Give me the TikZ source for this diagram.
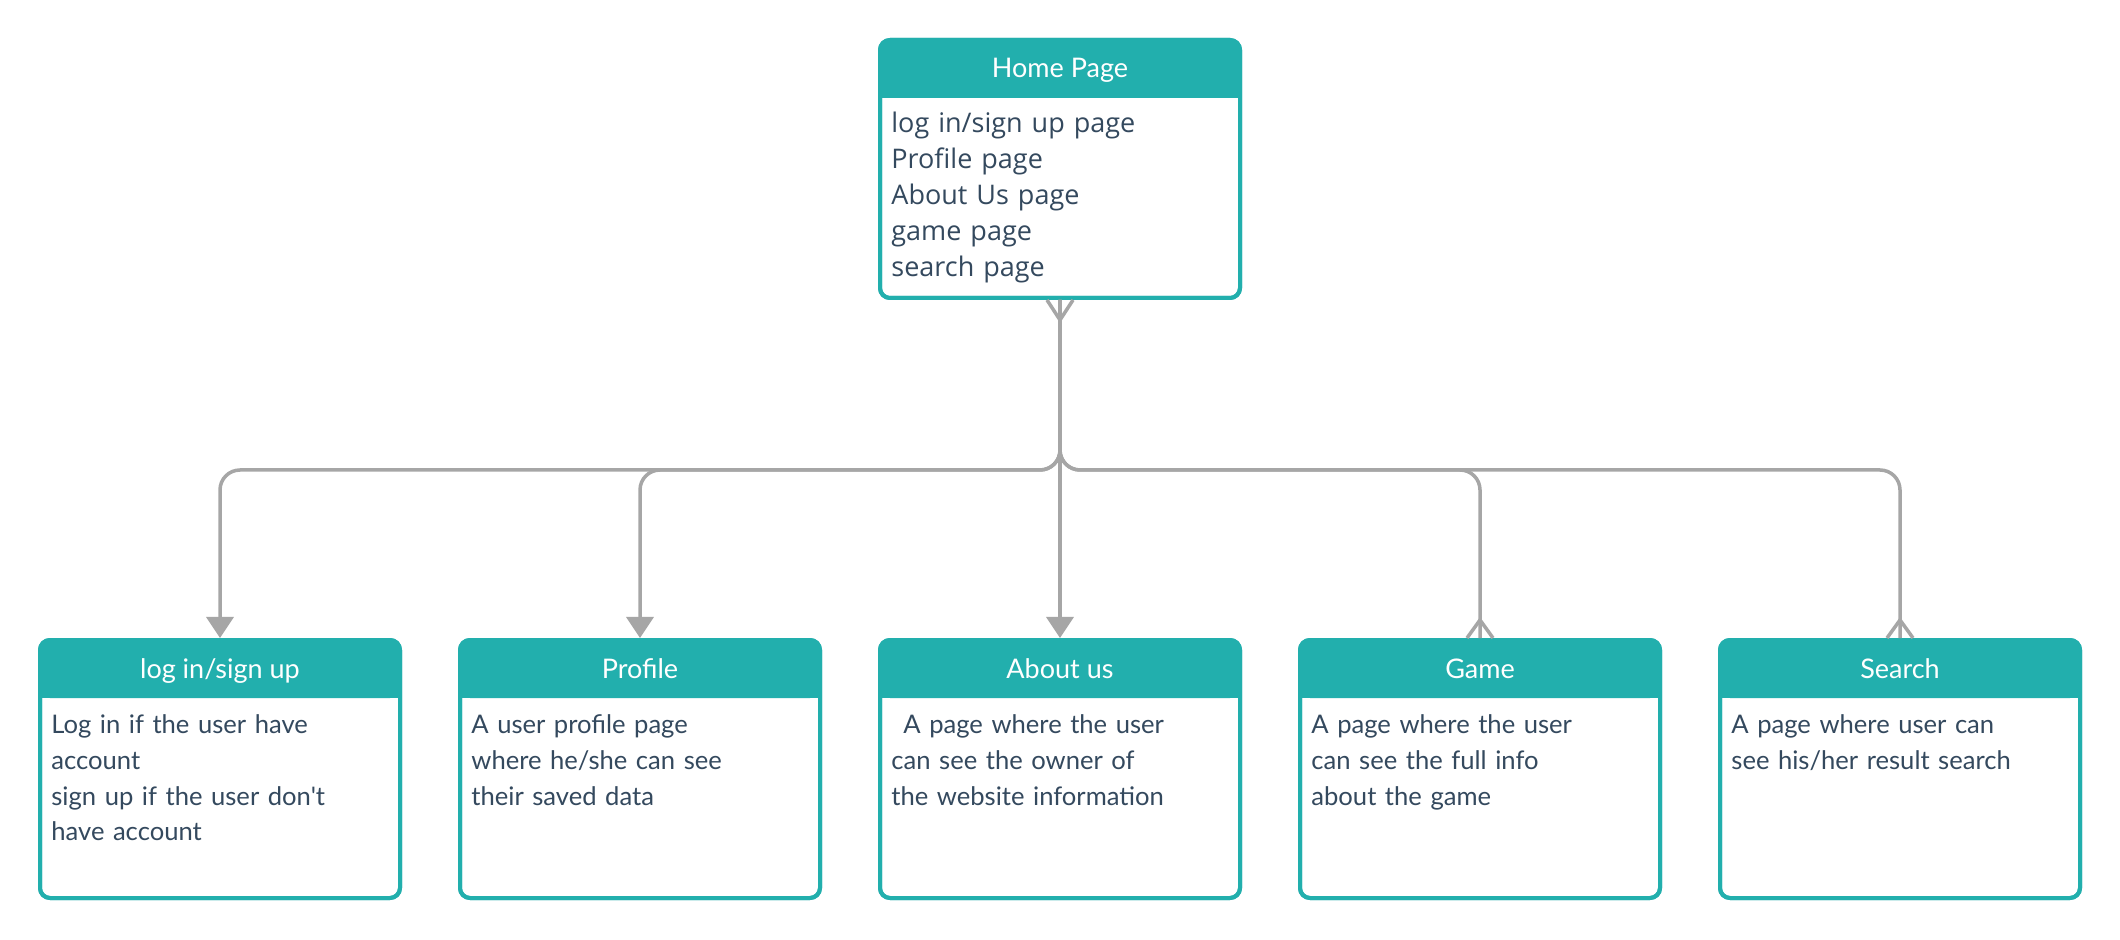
\documentclass[tikz,border=0pt]{standalone}
\usepackage{fontspec}
\setmainfont{Lato}
\newfontfamily\latoplain{Lato}
\newfontfamily\homefont{Open Sans}
\usetikzlibrary{arrows.meta}
\definecolor{tealA}{HTML}{22AFAD}
\definecolor{gryA}{HTML}{A6A6A6}
\definecolor{txtA}{HTML}{34495E}
\newcommand\pagebox[6]{%
  \node[box] (#1) at (#2,#3) {};
  \fill[tealA, rounded corners=5pt] ([shift={(2,2)}]#1.north west) rectangle ([shift={(-2,60)}]#1.north east);
  \fill[tealA] ([shift={(2,30)}]#1.north west) rectangle ([shift={(-2,60)}]#1.north east);
  \draw[tealA, line width=2pt, rounded corners=5pt] ([shift={(2,2)}]#1.north west) rectangle ([shift={(-2,-2)}]#1.south east);
  \node[titletext] (#1-t) at ([shift={(0,40)}]#1.north) {#4};
  \node[bodytext, font=#5] (#1-b) at ([shift={(13,95)}]#1.north west) {#6};
}
\begin{document}
\begin{tikzpicture}[x=0.5pt,y=-0.5pt,
  box/.style={draw=tealA, fill=white, line width=2pt, rounded corners=5pt,
    minimum width=180pt, minimum height=129pt, inner sep=0pt},
  titletext/.style={text=white, font=\fontsize{13.5}{16}\selectfont, inner sep=0pt, anchor=base},
  bodytext/.style={text=txtA, inner sep=0pt, anchor=base west, text width=172pt, align=left},
  conn/.style={draw=gryA, line width=1.75pt, rounded corners=10pt},
  foot/.style={draw=gryA, line width=1.75pt},
  tip/.style={-{Triangle[length=10.5pt,width=13.5pt]}}
]
\fill[white] (0,0) rectangle (2120,940);
\useasboundingbox (0,0) rectangle (2120,940);

\pagebox{home}{1060}{169}{Home Page}{\homefont\fontsize{13.5}{18}\selectfont}{log in/sign up page\\Profile page\\About Us page\\game page\\search page}
\pagebox{login}{220}{769}{log in/sign up}{\latoplain\fontsize{12.8}{18}\selectfont}{Log in if the user have\\account\\sign up if the user don't\\have account}
\pagebox{profile}{640}{769}{Profile}{\latoplain\fontsize{12.8}{18}\selectfont}{A user profile page\\where he/she can see\\their saved data}
\pagebox{about}{1060}{769}{About us}{\latoplain\fontsize{12.8}{18}\selectfont}{\hspace*{6pt}A page where the user\\can see the owner of\\the website information}
\pagebox{game}{1480}{769}{Game}{\latoplain\fontsize{12.8}{18}\selectfont}{A page where the user\\can see the full info\\about the game}
\pagebox{search}{1900}{769}{Search}{\latoplain\fontsize{12.8}{18}\selectfont}{A page where user can\\see his/her result search}

\coordinate (bus) at (1060,470);
\draw[conn,tip] (home.south) -- (bus) -| (login.north);
\draw[conn,tip] (home.south) -- (bus) -| (profile.north);
\draw[conn,tip] (home.south) -- (about.north);
\draw[conn] (home.south) -- (bus) -| (game.north);
\draw[conn] (home.south) -- (bus) -| (search.north);

\draw[foot] ([shift={(-13,0)}]home.south) -- ([shift={(0,20)}]home.south) -- ([shift={(13,0)}]home.south);
\draw[foot] ([shift={(-13,0)}]game.north) -- ([shift={(0,-18)}]game.north) -- ([shift={(13,0)}]game.north);
\draw[foot] ([shift={(-13,0)}]search.north) -- ([shift={(0,-18)}]search.north) -- ([shift={(13,0)}]search.north);
\end{tikzpicture}
\end{document}
